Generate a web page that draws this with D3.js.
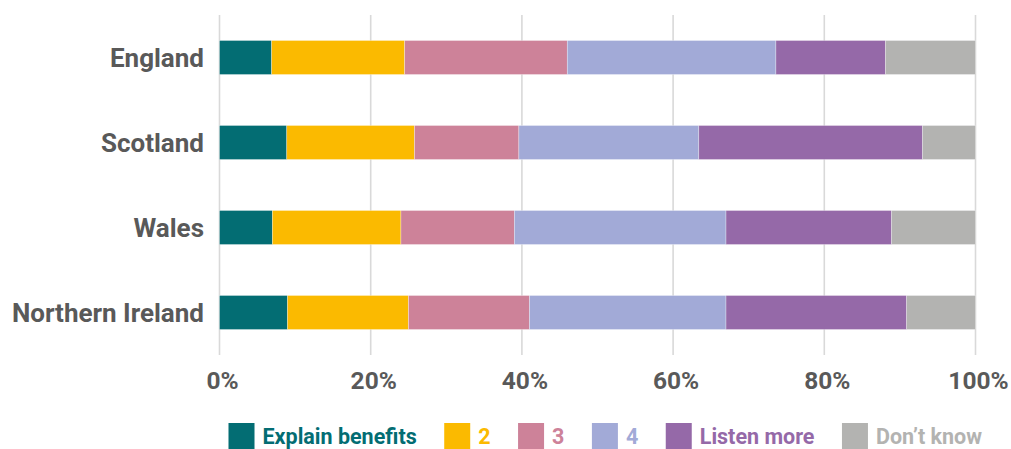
<!DOCTYPE html>
<html><head><meta charset="utf-8">
<script src="https://cdn.jsdelivr.net/npm/d3@7"></script>
<style>
html,body{margin:0;padding:0;background:#fff;}
svg{display:block;}
text{font-family:Roboto,"Noto Sans",sans-serif;font-weight:700;}
</style></head>
<body>
<svg id="c" width="1011" height="449"></svg>
<script>
const categories = ["England", "Scotland", "Wales", "Northern Ireland"];
const seriesNames = ["Explain benefits", "2", "3", "4", "Listen more", "Don\u2019t know"];
const explainBenefits = [6.9, 8.9, 7.0, 9.0];
const s2 = [17.6, 16.9, 17.0, 16.0];
const s3 = [21.5, 13.8, 15.0, 16.0];
const s4 = [27.6, 23.8, 28.0, 26.0];
const listenMore = [14.5, 29.6, 21.9, 23.9];
const dontKnow = [11.9, 7.0, 11.1, 9.1];
const xTicks = [0, 20, 40, 60, 80, 100];
const colors = ["#036d73", "#fbba00", "#cd8299", "#a2aad7", "#9569a8", "#b3b3b1"];

const seriesValues = [explainBenefits, s2, s3, s4, listenMore, dontKnow];
const rows = categories.map((c, i) => {
  const r = {cat: c};
  seriesNames.forEach((s, j) => r[s] = seriesValues[j][i]);
  return r;
});
const stack = d3.stack().keys(seriesNames)(rows);

const svg = d3.select("#c");
const x = d3.scaleLinear().domain([0, 100]).range([219.5, 975.5]);
const y = d3.scaleBand().domain(categories).range([15, 355]).paddingInner(0.6).paddingOuter(0.3);

// gridlines
svg.append("g").selectAll("line").data(xTicks).join("line")
  .attr("x1", d => x(d)).attr("x2", d => x(d))
  .attr("y1", 15).attr("y2", 355)
  .attr("stroke", "#d9d9d9").attr("stroke-width", 1.6);

// bars
svg.append("g").selectAll("g").data(stack).join("g")
  .attr("fill", (d, i) => colors[i])
  .selectAll("rect").data(d => d).join("rect")
  .attr("x", d => x(d[0]))
  .attr("width", d => x(d[1]) - x(d[0]))
  .attr("y", d => y(d.data.cat))
  .attr("height", y.bandwidth())
  .attr("stroke", "rgba(255,255,255,0.5)").attr("stroke-width", 0.6);

// x axis labels
const xAxis = d3.axisBottom(x).tickValues(xTicks).tickFormat(d => d + "%").tickSize(0).tickPadding(0);
const gx = svg.append("g").attr("transform", "translate(2.5,372)").call(xAxis);
gx.select(".domain").remove();
gx.selectAll("text").attr("font-size", 24.5).attr("fill", "#595959")
  .attr("font-family", "Roboto, sans-serif").attr("font-weight", 700)
  .attr("dy", "0.71em");

// y axis labels
const yAxis = d3.axisLeft(y).tickSize(0).tickPadding(0);
const gy = svg.append("g").attr("transform", "translate(204,0)").call(yAxis);
gy.select(".domain").remove();
gy.selectAll("text").attr("font-size", 26).attr("fill", "#595959")
  .attr("font-family", "Roboto, sans-serif").attr("font-weight", 700)
  .attr("dy", "0.35em");

// legend
const lg = svg.append("g");
let lx = 228.5;
seriesNames.forEach((s, i) => {
  lg.append("rect").attr("x", lx).attr("y", 423).attr("width", 26).attr("height", 26).attr("fill", colors[i]);
  const t = lg.append("text").attr("x", lx + 34).attr("y", 443.5)
    .attr("font-size", 21.5).attr("fill", colors[i]).text(s);
  const w = t.node().getComputedTextLength();
  lx = lx + 34 + w + 27.5;
});
</script>
</body></html>
